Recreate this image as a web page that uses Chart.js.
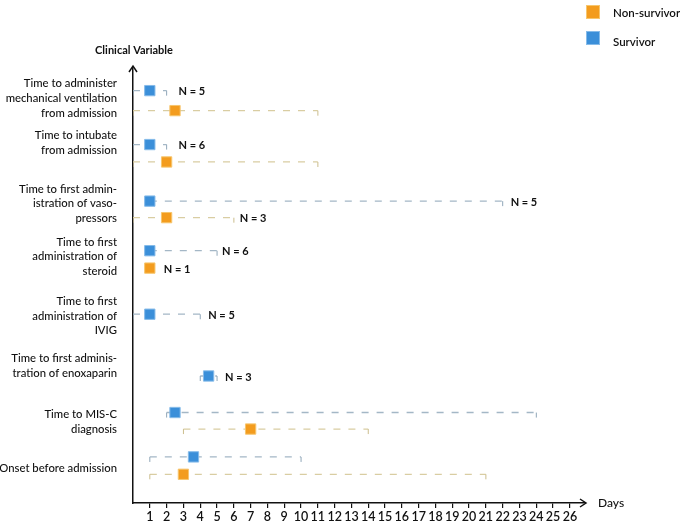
<!DOCTYPE html>
<html>
<head>
<meta charset="utf-8">
<script src="https://cdn.jsdelivr.net/npm/chart.js@4"></script>
<style>
  html, body { margin: 0; padding: 0; background: #fff; }
  #wrap { width: 680px; height: 523px; }
</style>
</head>
<body>
<div id="wrap"><canvas id="chart" width="680" height="523"></canvas></div>
<script>
// clinical variables (y axis labels, one per group)
const categories = [
    ['Time to administer', 'mechanical ventilation', 'from admission'],
    ['Time to intubate', 'from admission'],
    ['Time to first admin-', 'istration of vaso-', 'pressors'],
    ['Time to first', 'administration of', 'steroid'],
    ['Time to first', 'administration of', 'IVIG'],
    ['Time to first adminis-', 'tration of enoxaparin'],
    ['Time to MIS-C', 'diagnosis'],
    ['Onset before admission']
];

// days: median and range per group
const survivorMedian = [1, 1, 1, 1, 1, 4.5, 2.5, 3.6];
const survivorMin = [0, 0, 1, 1, 0, 4, 2, 1];
const survivorMax = [2, 2, 22, 5, 4, 5, 24, 10];
const survivorN = [5, 6, 5, 6, 5, 3, null, null];

const nonSurvivorMedian = [2.5, 2, 2, 1, null, null, 7, 3];
const nonSurvivorMin = [0, 0, 0, 1, null, null, 3, 1];
const nonSurvivorMax = [11, 11, 6, 1, null, null, 14, 21];
const nonSurvivorN = [null, null, 3, 1, null, null, null, null];

const dayTicks = [1, 2, 3, 4, 5, 6, 7, 8, 9, 10, 11, 12, 13, 14, 15, 16, 17, 18, 19, 20, 21, 22, 23, 24, 25, 26];

// layout: where each group sits on the (reversed) row axis
const labelRow = [1.75, 4.3, 7.8, 10.85, 14.25, 17.1, 20.35, 23.0];
const survivorRow = [1.3, 4.4, 7.65, 10.5, 14.15, 17.7, 19.8, 22.35];
const nonSurvivorRow = [2.45, 5.4, 8.6, 11.5, null, null, 20.75, 23.35];
const survivorNGap = [12, 12, 8, 5, 8, 8];
const nonSurvivorNGap = [0, 0, 6, 14];

const BLUE = '#3b8fd9';
const ORANGE = '#f39c1e';
const BLUE_DASH = '#a4b7c6';
const ORANGE_DASH = '#d9cda2';
const FONT = 'Lato, "Open Sans", sans-serif';

// little downward tick used at both ends of a range
function makeTick(color) {
    const c = document.createElement('canvas');
    c.width = 3;
    c.height = 12;
    const ctx = c.getContext('2d');
    ctx.strokeStyle = color;
    ctx.lineWidth = 1;
    ctx.beginPath();
    ctx.moveTo(1.5, 6);
    ctx.lineTo(1.5, 11);
    ctx.stroke();
    return c;
}
const blueTick = makeTick('#8fa6b8');
const orangeTick = makeTick('#cbbd8c');

const datasets = [];

datasets.push({
    label: 'Non-survivor',
    data: nonSurvivorMedian.map((v, i) => v == null ? null : { x: v, y: nonSurvivorRow[i] }).filter(d => d),
    pointStyle: 'rect',
    pointRadius: 7.3,
    backgroundColor: ORANGE,
    borderColor: '#f7c66e',
    borderWidth: 1,
    showLine: false,
    order: 0
});
datasets.push({
    label: 'Survivor',
    data: survivorMedian.map((v, i) => ({ x: v, y: survivorRow[i] })),
    pointStyle: 'rect',
    pointRadius: 7.3,
    backgroundColor: BLUE,
    borderColor: '#86bbe9',
    borderWidth: 1,
    showLine: false,
    order: 0
});

function addRange(min, max, row, color, tick) {
    if (min == null || min === max) return;
    datasets.push({
        label: 'range',
        data: [{ x: min, y: row }, { x: max, y: row }],
        showLine: true,
        borderColor: color,
        borderWidth: 1.3,
        borderDash: [7, 8],
        pointStyle: tick,
        pointRadius: 4,
        order: 1
    });
}
categories.forEach((c, i) => {
    addRange(survivorMin[i], survivorMax[i], survivorRow[i], BLUE_DASH, blueTick);
    addRange(nonSurvivorMin[i], nonSurvivorMax[i], nonSurvivorRow[i], ORANGE_DASH, orangeTick);
});

function arrowHead(ctx, x, y, dir) {
    ctx.beginPath();
    if (dir === 'up') {
        ctx.moveTo(x - 4, y + 6);
        ctx.lineTo(x, y);
        ctx.lineTo(x + 4, y + 6);
    } else {
        ctx.moveTo(x - 6, y - 4);
        ctx.lineTo(x, y);
        ctx.lineTo(x - 6, y + 4);
    }
    ctx.stroke();
}

const extras = {
    id: 'extras',
    afterDraw(chart) {
        const ctx = chart.ctx;
        const xs = chart.scales.x;
        const ys = chart.scales.y;
        const area = chart.chartArea;
        ctx.save();
        ctx.strokeStyle = '#111';
        ctx.lineWidth = 1.5;
        arrowHead(ctx, area.left, area.top - 2, 'up');
        arrowHead(ctx, area.right + 1, area.bottom, 'right');

        ctx.fillStyle = '#111';
        ctx.textBaseline = 'middle';
        ctx.font = 'bold 11px ' + FONT;
        ctx.textAlign = 'center';
        ctx.fillText('Clinical Variable', 134, 50);
        ctx.textAlign = 'left';
        ctx.font = '500 12px ' + FONT;
        ctx.fillText('Days', 598, 503);

        // N labels
        ctx.font = 'bold 11px ' + FONT;
        survivorN.forEach((n, i) => {
            if (n == null) return;
            const x = xs.getPixelForValue(survivorMax[i]) + survivorNGap[i];
            ctx.fillText('N = ' + n, x, ys.getPixelForValue(survivorRow[i]) + 1);
        });
        nonSurvivorN.forEach((n, i) => {
            if (n == null) return;
            const x = xs.getPixelForValue(nonSurvivorMax[i]) + nonSurvivorNGap[i];
            ctx.fillText('N = ' + n, x, ys.getPixelForValue(nonSurvivorRow[i]) + 1);
        });

        // legend
        const legend = [['Non-survivor', ORANGE, '#f7c66e'], ['Survivor', BLUE, '#86bbe9']];
        legend.forEach(([text, fill, edge], k) => {
            const y = 5 + k * 26;
            ctx.fillStyle = fill;
            ctx.fillRect(586, y, 14, 14);
            ctx.strokeStyle = edge;
            ctx.lineWidth = 1;
            ctx.strokeRect(586.5, y + 0.5, 13, 13);
            ctx.fillStyle = '#111';
            ctx.font = '600 11.5px ' + FONT;
            ctx.fillText(text, 613, y + 8 + (k ? 3 : 0));
        });
        ctx.restore();
    }
};

new Chart(document.getElementById('chart'), {
    type: 'scatter',
    data: { datasets },
    options: {
        responsive: false,
        animation: false,
        layout: { padding: { top: 68, right: 95, left: 0, bottom: 0 } },
        plugins: {
            legend: { display: false },
            tooltip: { enabled: false }
        },
        scales: {
            x: {
                type: 'linear',
                min: 0,
                max: 26.9,
                afterBuildTicks: scale => { scale.ticks = dayTicks.map(v => ({ value: v })); },
                afterFit: scale => {
                    scale.height = 20;
                    scale.paddingLeft = 0;
                    scale.paddingRight = 0;
                },
                grid: { drawOnChartArea: false, tickLength: 5, color: '#111', lineWidth: 1.2 },
                border: { display: true, color: '#111', width: 1.5 },
                ticks: {
                    color: '#111',
                    padding: 1,
                    maxRotation: 0,
                    autoSkip: false,
                    font: { family: FONT, size: 12.5, weight: '600' }
                }
            },
            y: {
                type: 'linear',
                min: 0,
                max: 25,
                reverse: true,
                afterBuildTicks: scale => { scale.ticks = labelRow.map(v => ({ value: v })); },
                afterFit: scale => {
                    scale.width = 133;
                    scale.paddingTop = 0;
                    scale.paddingBottom = 0;
                },
                grid: { display: false, drawTicks: false },
                border: { display: true, color: '#111', width: 1.5 },
                ticks: {
                    color: '#111',
                    padding: 16,
                    autoSkip: false,
                    font: { family: FONT, size: 11.3, weight: '500', lineHeight: 1.3 },
                    callback: (value, index) => categories[index]
                }
            }
        }
    },
    plugins: [extras]
});
</script>
</body>
</html>
